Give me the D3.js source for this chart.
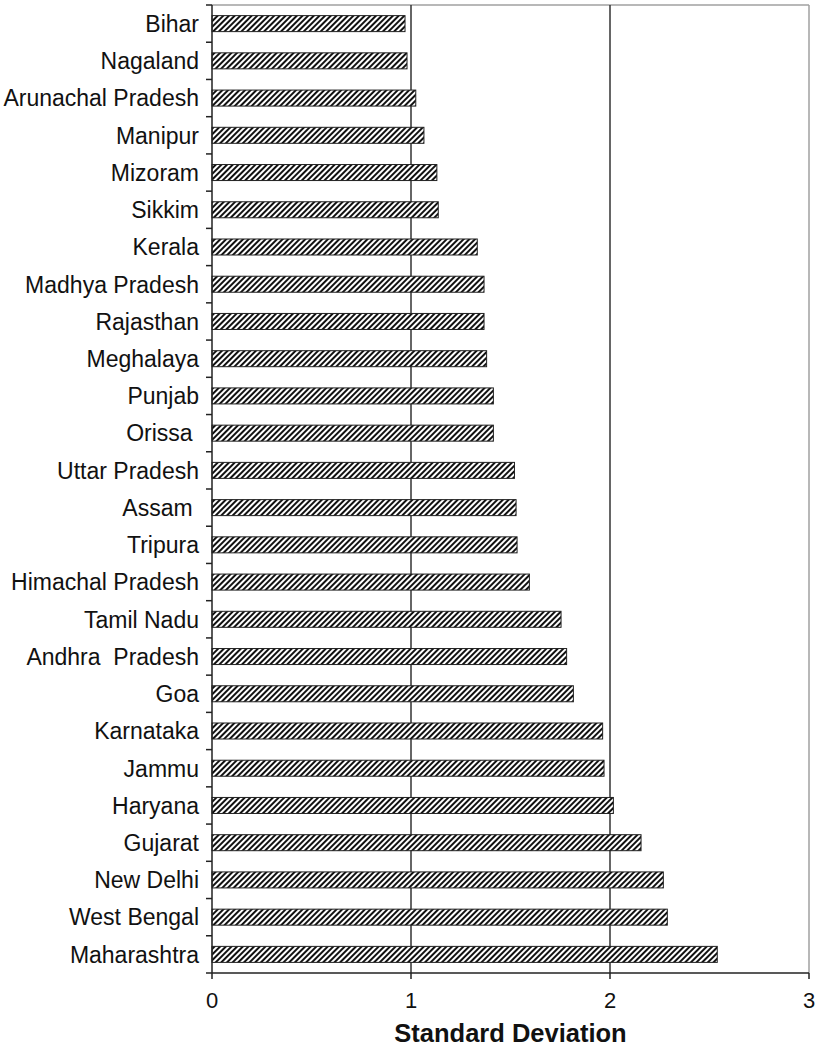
<!DOCTYPE html>
<html>
<head>
<meta charset="utf-8">
<script src="https://cdn.jsdelivr.net/npm/d3@7"></script>
<style>
  body { margin: 0; background: #fff; }
  svg text { font-family: "Liberation Sans", Arial, sans-serif; fill: #111; }
</style>
</head>
<body>
<svg width="818" height="1050"></svg>
<script>
const states = ["Bihar", "Nagaland", "Arunachal Pradesh", "Manipur", "Mizoram", "Sikkim",
  "Kerala", "Madhya Pradesh", "Rajasthan", "Meghalaya", "Punjab", "Orissa ",
  "Uttar Pradesh", "Assam ", "Tripura", "Himachal Pradesh", "Tamil Nadu",
  "Andhra  Pradesh", "Goa", "Karnataka", "Jammu", "Haryana", "Gujarat",
  "New Delhi", "West Bengal", "Maharashtra"];
const sd = [0.97, 0.98, 1.024, 1.065, 1.13, 1.137,
  1.333, 1.367, 1.367, 1.38, 1.414, 1.414,
  1.52, 1.528, 1.533, 1.595, 1.754,
  1.782, 1.816, 1.963, 1.97, 2.017, 2.156,
  2.268, 2.288, 2.539];
const xTicks = [0, 1, 2, 3];
const xTitle = "Standard Deviation";

const svg = d3.select("svg");
const mLeft = 212, mRight = 809, mTop = 5, mBottom = 973;

const x = d3.scaleLinear().domain([0, 3]).range([mLeft, mRight]);
const y = d3.scaleBand().domain(states).range([mTop, mBottom])
  .paddingInner(0.57).paddingOuter(0.285);

// hatch fill
const pat = svg.append("defs").append("pattern")
  .attr("id", "hatch")
  .attr("patternUnits", "userSpaceOnUse")
  .attr("width", 4).attr("height", 4)
  .attr("patternTransform", "rotate(45)");
pat.append("rect").attr("width", 4).attr("height", 4).attr("fill", "#fff");
pat.append("rect").attr("width", 2).attr("height", 4).attr("fill", "#111");

// frame (top and right are light)
svg.append("line")
  .attr("x1", mLeft).attr("x2", mRight).attr("y1", mTop).attr("y2", mTop)
  .attr("stroke", "#a0a0a0").attr("stroke-width", 1.5);
svg.append("line")
  .attr("x1", mRight).attr("x2", mRight).attr("y1", mTop).attr("y2", mBottom)
  .attr("stroke", "#a0a0a0").attr("stroke-width", 1.5);

// gridlines
svg.append("g").selectAll("line")
  .data(xTicks.filter(d => d > 0 && d < 3))
  .join("line")
    .attr("x1", d => x(d)).attr("x2", d => x(d))
    .attr("y1", mTop).attr("y2", mBottom)
    .attr("stroke", "#333").attr("stroke-width", 1.5);

// bars
svg.append("g").selectAll("rect")
  .data(states)
  .join("rect")
    .attr("x", x(0))
    .attr("y", d => y(d))
    .attr("width", (d, i) => x(sd[i]) - x(0))
    .attr("height", y.bandwidth())
    .attr("fill", "url(#hatch)")
    .attr("stroke", "#222").attr("stroke-width", 1);

// left axis
const gap = (y.step() - y.bandwidth()) / 2;
const bounds = states.map(d => y(d) - gap).concat([mBottom]);
const ga = svg.append("g");
ga.append("line")
  .attr("x1", mLeft).attr("x2", mLeft).attr("y1", mTop).attr("y2", mBottom)
  .attr("stroke", "#222").attr("stroke-width", 1.5);
ga.selectAll(".tk").data(bounds).join("line")
  .attr("x1", mLeft - 6).attr("x2", mLeft)
  .attr("y1", d => d).attr("y2", d => d)
  .attr("stroke", "#222").attr("stroke-width", 1.5);
ga.selectAll("text").data(states).join("text")
  .attr("x", mLeft - 13)
  .attr("y", d => y(d) + y.bandwidth() / 2)
  .attr("dy", "0.36em")
  .attr("text-anchor", "end")
  .attr("font-size", 23)
  .style("white-space", "pre")
  .text(d => d);

// bottom axis
const gb = svg.append("g");
gb.append("line")
  .attr("x1", mLeft).attr("x2", mRight).attr("y1", mBottom).attr("y2", mBottom)
  .attr("stroke", "#222").attr("stroke-width", 1.5);
gb.selectAll(".tk").data(xTicks).join("line")
  .attr("x1", d => x(d)).attr("x2", d => x(d))
  .attr("y1", mBottom).attr("y2", mBottom + 6)
  .attr("stroke", "#222").attr("stroke-width", 1.5);
gb.selectAll("text").data(xTicks).join("text")
  .attr("x", d => x(d))
  .attr("y", 1008)
  .attr("text-anchor", "middle")
  .attr("font-size", 22)
  .text(d => d);

svg.append("text")
  .attr("x", (mLeft + mRight) / 2)
  .attr("y", 1042)
  .attr("text-anchor", "middle")
  .attr("font-size", 25.5)
  .attr("font-weight", "bold")
  .text(xTitle);
</script>
</body>
</html>
